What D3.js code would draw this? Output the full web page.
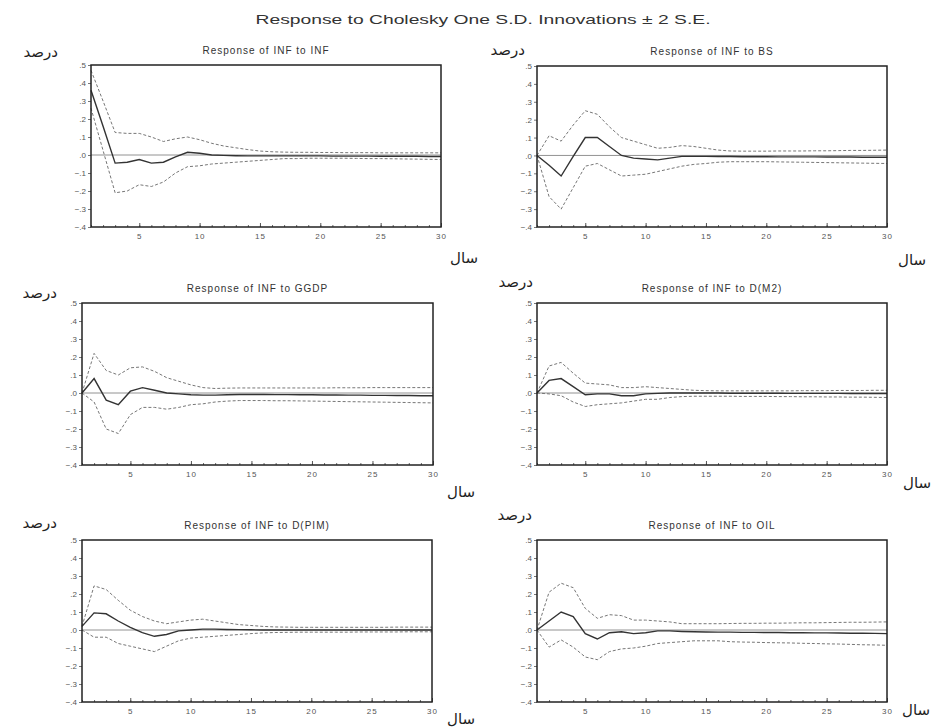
<!DOCTYPE html>
<html>
<head>
<meta charset="utf-8">
<script src="https://cdn.jsdelivr.net/npm/d3@7"></script>
<style>
  body { margin: 0; background: #fff; }
  text { font-family: "Liberation Sans", Arial, sans-serif; }
  .fa { font-family: "DejaVu Sans", sans-serif; }
</style>
</head>
<body>
<div id="chart"></div>
<script>
// periods (x categories)
var periods = [1,2,3,4,5,6,7,8,9,10,11,12,13,14,15,16,17,18,19,20,21,22,23,24,25,26,27,28,29,30];
var xTickLabels = [5, 10, 15, 20, 25, 30];
var yTickValues = [0.5, 0.4, 0.3, 0.2, 0.1, 0, -0.1, -0.2, -0.3, -0.4];

var mainTitle = "Response to Cholesky One S.D. Innovations \u00b1 2 S.E.";
var panelTitles = ["Response of INF to INF", "Response of INF to BS", "Response of INF to GGDP",
                   "Response of INF to D(M2)", "Response of INF to D(PIM)", "Response of INF to OIL"];
var yLabel = "درصد";
var xLabel = "سال";

// INF to INF
var infResp  = [0.36,0.16,-0.045,-0.04,-0.025,-0.045,-0.04,-0.01,0.015,0.01,0,-0.002,-0.004,-0.005,-0.005,-0.005,-0.005,-0.005,-0.005,-0.005,-0.006,-0.006,-0.006,-0.006,-0.007,-0.007,-0.007,-0.007,-0.008,-0.008];
var infUpper = [0.47,0.30,0.125,0.12,0.12,0.10,0.075,0.09,0.10,0.085,0.065,0.05,0.04,0.03,0.022,0.018,0.016,0.015,0.015,0.014,0.014,0.013,0.013,0.013,0.012,0.012,0.012,0.012,0.012,0.012];
var infLower = [0.26,0.025,-0.21,-0.20,-0.165,-0.175,-0.15,-0.10,-0.065,-0.06,-0.05,-0.045,-0.04,-0.035,-0.03,-0.025,-0.02,-0.02,-0.018,-0.018,-0.018,-0.018,-0.019,-0.02,-0.02,-0.021,-0.022,-0.023,-0.024,-0.025];

// INF to BS
var bsResp  = [0,-0.055,-0.115,-0.005,0.10,0.10,0.05,0,-0.015,-0.02,-0.025,-0.015,-0.005,-0.005,-0.005,-0.006,-0.006,-0.007,-0.007,-0.007,-0.008,-0.008,-0.008,-0.008,-0.009,-0.009,-0.009,-0.01,-0.01,-0.01];
var bsUpper = [0,0.11,0.08,0.17,0.25,0.23,0.16,0.10,0.08,0.06,0.04,0.045,0.055,0.05,0.04,0.03,0.025,0.024,0.024,0.024,0.025,0.025,0.025,0.026,0.026,0.027,0.028,0.028,0.029,0.03];
var bsLower = [0,-0.23,-0.30,-0.18,-0.06,-0.045,-0.08,-0.115,-0.11,-0.105,-0.09,-0.075,-0.06,-0.05,-0.045,-0.038,-0.035,-0.035,-0.035,-0.035,-0.036,-0.037,-0.038,-0.039,-0.04,-0.041,-0.042,-0.043,-0.044,-0.045];

// INF to GGDP
var ggdpResp  = [0,0.08,-0.04,-0.065,0.01,0.03,0.015,0,-0.005,-0.01,-0.012,-0.012,-0.01,-0.008,-0.008,-0.008,-0.009,-0.009,-0.01,-0.01,-0.011,-0.011,-0.012,-0.012,-0.013,-0.013,-0.014,-0.014,-0.015,-0.015];
var ggdpUpper = [0,0.22,0.125,0.10,0.14,0.145,0.12,0.085,0.065,0.045,0.03,0.025,0.027,0.028,0.028,0.028,0.028,0.028,0.028,0.028,0.028,0.029,0.029,0.029,0.03,0.03,0.03,0.03,0.03,0.03];
var ggdpLower = [0,-0.05,-0.20,-0.225,-0.12,-0.08,-0.08,-0.09,-0.08,-0.065,-0.06,-0.05,-0.045,-0.042,-0.042,-0.042,-0.043,-0.043,-0.044,-0.045,-0.046,-0.047,-0.048,-0.049,-0.05,-0.051,-0.052,-0.053,-0.054,-0.055];

// INF to D(M2)
var m2Resp  = [0,0.07,0.08,0.035,-0.01,-0.005,-0.005,-0.015,-0.015,-0.005,-0.002,0,0,0,0,0,-0.001,-0.001,-0.001,-0.001,-0.001,-0.002,-0.002,-0.002,-0.002,-0.002,-0.003,-0.003,-0.003,-0.003];
var m2Upper = [0,0.15,0.17,0.11,0.055,0.05,0.045,0.03,0.03,0.035,0.03,0.025,0.02,0.015,0.013,0.012,0.012,0.012,0.012,0.012,0.012,0.012,0.013,0.013,0.013,0.014,0.014,0.014,0.015,0.015];
var m2Lower = [0,-0.005,-0.015,-0.05,-0.075,-0.065,-0.06,-0.055,-0.045,-0.035,-0.035,-0.025,-0.02,-0.018,-0.018,-0.018,-0.018,-0.019,-0.019,-0.019,-0.02,-0.02,-0.021,-0.021,-0.022,-0.022,-0.023,-0.023,-0.024,-0.025];

// INF to D(PIM)
var pimResp  = [0.02,0.095,0.09,0.05,0.015,-0.015,-0.035,-0.025,-0.005,0,0.005,0.005,0.003,0.002,0.001,0,0,0,0,0,0,0,0,0,0,0,0,0,0,0];
var pimUpper = [0.02,0.245,0.225,0.165,0.11,0.075,0.05,0.035,0.045,0.055,0.06,0.05,0.04,0.03,0.025,0.02,0.017,0.016,0.015,0.015,0.015,0.015,0.015,0.015,0.015,0.015,0.016,0.016,0.016,0.016];
var pimLower = [0,-0.04,-0.04,-0.075,-0.09,-0.105,-0.12,-0.09,-0.06,-0.045,-0.04,-0.035,-0.03,-0.025,-0.02,-0.016,-0.014,-0.013,-0.012,-0.012,-0.012,-0.012,-0.012,-0.011,-0.011,-0.011,-0.011,-0.01,-0.01,-0.01];

// INF to OIL
var oilResp  = [0,0.05,0.10,0.075,-0.02,-0.05,-0.015,-0.01,-0.02,-0.015,-0.005,-0.005,-0.008,-0.01,-0.011,-0.012,-0.012,-0.013,-0.013,-0.014,-0.014,-0.015,-0.015,-0.016,-0.016,-0.017,-0.018,-0.018,-0.019,-0.02];
var oilUpper = [0,0.21,0.26,0.235,0.12,0.065,0.085,0.08,0.055,0.055,0.05,0.045,0.035,0.035,0.035,0.035,0.036,0.037,0.037,0.038,0.038,0.039,0.04,0.04,0.041,0.042,0.043,0.043,0.044,0.045];
var oilLower = [0,-0.095,-0.055,-0.095,-0.15,-0.165,-0.12,-0.105,-0.10,-0.09,-0.075,-0.07,-0.065,-0.06,-0.06,-0.06,-0.065,-0.067,-0.068,-0.07,-0.071,-0.072,-0.074,-0.075,-0.077,-0.078,-0.08,-0.082,-0.083,-0.085];

var series = [
  [infResp, infUpper, infLower],
  [bsResp, bsUpper, bsLower],
  [ggdpResp, ggdpUpper, ggdpLower],
  [m2Resp, m2Upper, m2Lower],
  [pimResp, pimUpper, pimLower],
  [oilResp, oilUpper, oilLower]
];

// panel frames and label spots (layout only)
var layout = [
  {x: 91,  y: 65,  w: 350, h: 162, faX: 58,  faY: 57,  salX: 450, salY: 263},
  {x: 537, y: 66,  w: 350, h: 161, faX: 525, faY: 55,  salX: 898, salY: 265},
  {x: 82,  y: 303, w: 351, h: 162, faX: 57,  faY: 298, salX: 447, salY: 497},
  {x: 537, y: 303, w: 350, h: 162, faX: 533, faY: 287, salX: 903, salY: 488},
  {x: 82,  y: 540, w: 350, h: 162, faX: 57,  faY: 528, salX: 447, salY: 724},
  {x: 537, y: 540, w: 350, h: 162, faX: 532, faY: 520, salX: 902, salY: 715}
];

var width = 941, height = 728;

var svg = d3.select('#chart').append('svg')
  .attr('width', width)
  .attr('height', height);

// main title, glyphs stretched a bit like the original
svg.append('text')
  .attr('x', 483).attr('y', 24)
  .attr('text-anchor', 'middle')
  .attr('textLength', 455)
  .attr('lengthAdjust', 'spacingAndGlyphs')
  .style('font-size', '13px')
  .attr('fill', '#333')
  .text(mainTitle);

var fmt = function(v) {
  // eviews style: ".5", ".0", "-.1"
  var s = d3.format('.1f')(v);
  return s.replace('0.', '.');
};

layout.forEach(function(p, i) {
  var g = svg.append('g').attr('transform', 'translate(' + p.x + ',' + p.y + ')');

  var x = d3.scaleLinear().domain([1, 30]).range([0, p.w]);
  var y = d3.scaleLinear().domain([-0.4, 0.5]).range([p.h, 0]);

  // y axis, ticks outward
  var yAxis = g.append('g')
    .call(d3.axisLeft(y).tickValues(yTickValues).tickSize(3).tickPadding(2).tickFormat(fmt));
  yAxis.select('.domain').remove();
  yAxis.selectAll('line').attr('stroke', '#777');
  yAxis.selectAll('text').style('font-size', '8px').attr('fill', '#555');

  // x axis, minor ticks inward at every period
  var xMinor = g.append('g').attr('transform', 'translate(0,' + p.h + ')')
    .call(d3.axisBottom(x).tickValues(periods).tickSize(-2).tickFormat(''));
  xMinor.select('.domain').remove();
  xMinor.selectAll('line').attr('stroke', '#666');

  var xAxis = g.append('g').attr('transform', 'translate(0,' + p.h + ')')
    .call(d3.axisBottom(x).tickValues(xTickLabels).tickSize(-4).tickPadding(6).tickFormat(d3.format('d')));
  xAxis.select('.domain').remove();
  xAxis.selectAll('line').attr('stroke', '#555');
  xAxis.selectAll('text').style('font-size', '8px').attr('fill', '#555').style('letter-spacing', '1px');

  // zero line
  g.append('line')
    .attr('x1', 0).attr('x2', p.w)
    .attr('y1', y(0)).attr('y2', y(0))
    .attr('stroke', '#777').attr('stroke-width', 0.8);

  var line = d3.line()
    .x(function(d, j) { return x(periods[j]); })
    .y(function(d) { return y(d); });

  var s = series[i];
  // +/- 2 S.E. bands
  [s[1], s[2]].forEach(function(band) {
    g.append('path')
      .datum(band)
      .attr('d', line)
      .attr('fill', 'none')
      .attr('stroke', '#777')
      .attr('stroke-width', 1)
      .attr('stroke-dasharray', '3,2');
  });
  // response
  g.append('path')
    .datum(s[0])
    .attr('d', line)
    .attr('fill', 'none')
    .attr('stroke', '#333')
    .attr('stroke-width', 1.4);

  // frame
  g.append('rect')
    .attr('width', p.w).attr('height', p.h)
    .attr('fill', 'none')
    .attr('stroke', '#222')
    .attr('stroke-width', 1.5);

  // panel title
  g.append('text')
    .attr('x', p.w / 2).attr('y', -11)
    .attr('text-anchor', 'middle')
    .style('font-size', '10px')
    .style('letter-spacing', '1px')
    .attr('fill', '#333')
    .text(panelTitles[i]);

  svg.append('text').attr('class', 'fa')
    .attr('x', p.faX).attr('y', p.faY)
    .attr('text-anchor', 'end')
    .style('font-size', '15px')
    .attr('fill', '#222')
    .text(yLabel);

  svg.append('text').attr('class', 'fa')
    .attr('x', p.salX).attr('y', p.salY)
    .attr('text-anchor', 'start')
    .style('font-size', '15px')
    .attr('fill', '#222')
    .text(xLabel);
});
</script>
</body>
</html>
